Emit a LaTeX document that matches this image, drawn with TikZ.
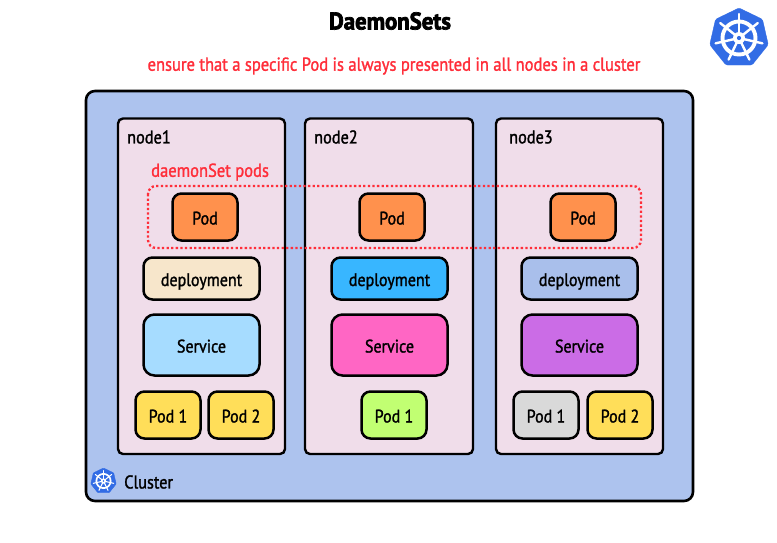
\documentclass[tikz,border=0pt]{standalone}
\usepackage{fontspec}
\setmainfont{PT Sans}[FakeStretch=0.88,FakeBold=1.4]
\newfontfamily\titlefont{PT Sans Bold}[FakeStretch=0.95,FakeBold=3]
\usetikzlibrary{shapes.geometric}
\definecolor{clustercol}{HTML}{ADC3EE}
\definecolor{nodecol}{HTML}{F0DDEA}
\definecolor{redcol}{HTML}{FF2E3A}
\definecolor{k8scol}{HTML}{326CE5}
\definecolor{podcol}{HTML}{FF914D}
\definecolor{yellowcol}{HTML}{FFDE59}
\definecolor{greencol}{HTML}{C1FF72}
\definecolor{greycol}{HTML}{D9D9D9}
\definecolor{creamcol}{HTML}{F7E6CB}
\definecolor{skycol}{HTML}{38B6FF}
\definecolor{periwcol}{HTML}{A9BFEB}
\definecolor{lightcol}{HTML}{A6DCFF}
\definecolor{pinkcol}{HTML}{FF66C4}
\definecolor{purplecol}{HTML}{CB6CE6}
\tikzset{
	box/.style={draw=black,line width=2.5pt,rounded corners=9pt,font=\fontsize{18.2}{20}\selectfont,
		text=black,text height=15pt,text depth=0pt},
	podbox/.style={box,minimum width=65pt,minimum height=47pt},
	deploybox/.style={box,minimum width=116pt,minimum height=42pt},
	servicebox/.style={box,minimum width=116pt,minimum height=61pt,rounded corners=11pt},
	frame/.style={draw=black,line width=2.4pt,rounded corners=5pt,fill=nodecol},
	lab/.style={font=\fontsize{18.5}{20}\selectfont,text=black,anchor=west,inner sep=0pt},
	redlab/.style={font=\fontsize{18.8}{20}\selectfont,text=redcol,inner sep=0pt}
}
% #1 name, #2 position, #3 radius
\newcommand{\kubelogo}[3]{
	\node[regular polygon,regular polygon sides=7,fill=k8scol,draw=k8scol,line join=round,
	minimum size=2*#3*1pt,inner sep=0pt,rounded corners=#3*0.05pt] (#1) at (#2) {};
	\begin{scope}[shift={(#2)}]
		\draw[white,line width=#3*0.13pt] (0,0) circle (#3*0.55);
		\foreach \a in {270,321.43,...,630}
			\draw[white,line width=#3*0.08pt,line cap=round] (0,0) -- (\a:#3*0.8);
		\fill[white] (0,0) circle (#3*0.2);
		\fill[k8scol] (0,0) circle (#3*0.07);
	\end{scope}
}
\begin{document}
\begin{tikzpicture}[x=1pt,y=-1pt]
	\useasboundingbox (0,0) rectangle (777,542);
	
	% TITLES
	\node[font=\fontsize{24}{26}\titlefont] (title) at (390,21) {DaemonSets};
	\node[redlab] (subtitle) at (394,66) {ensure that a specific Pod is always presented in all nodes in a cluster};
	\kubelogo{bigLogo}{739,38}{30}
	
	% FRAMES
	\draw[draw=black,line width=2.6pt,rounded corners=9pt,fill=clustercol] (86,91) rectangle (693,501);
	\draw[frame] (118,118.5) rectangle (285,454);
	\draw[frame] (305,118.5) rectangle (473,454);
	\draw[frame] (496,118.5) rectangle (663,454);
	\node[lab] (nodeA) at (127,137) {node1};
	\node[lab] (nodeB) at (314,137) {node2};
	\node[lab] (nodeC) at (509,137) {node3};
	
	\kubelogo{smallLogo}{103.5,481}{13}
	\node[lab] (cluster) at (124,482) {Cluster};
	
	% DAEMONSET PODS
	\node[podbox,fill=podcol] (podA) at (205,217) {Pod};
	\node[podbox,fill=podcol] (podB) at (392,217) {Pod};
	\node[podbox,fill=podcol] (podC) at (583,217) {Pod};
	\draw[redcol,line width=2.3pt,dash pattern=on 2.3pt off 2.3pt,rounded corners=8pt] (148,186) rectangle (641,248);
	\node[redlab,anchor=west] (daemonLab) at (151,172) {daemonSet pods};
	
	% NODE1
	\node[deploybox,fill=creamcol] (deployA) at (201.5,278.5) {deployment};
	\node[servicebox,fill=lightcol] (serviceA) at (201.5,345) {Service};
	\node[podbox,fill=yellowcol] (podAa) at (168,415) {Pod 1};
	\node[podbox,fill=yellowcol] (podAb) at (241,415) {Pod 2};
	
	% NODE2
	\node[deploybox,fill=skycol] (deployB) at (389.5,278.5) {deployment};
	\node[servicebox,fill=pinkcol] (serviceB) at (389.5,345) {Service};
	\node[podbox,fill=greencol] (podBa) at (394,415) {Pod 1};
	
	% NODE3
	\node[deploybox,fill=periwcol] (deployC) at (579.5,278.5) {deployment};
	\node[servicebox,fill=purplecol] (serviceC) at (579.5,345) {Service};
	\node[podbox,fill=greycol] (podCa) at (546,415) {Pod 1};
	\node[podbox,fill=yellowcol] (podCb) at (620,415) {Pod 2};
\end{tikzpicture}
\end{document}
